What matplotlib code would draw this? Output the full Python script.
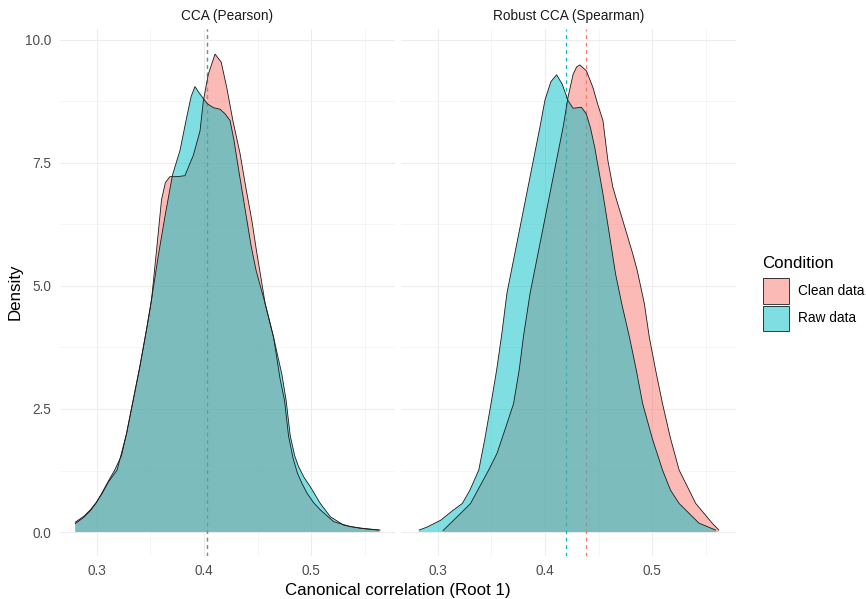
import matplotlib.pyplot as plt
from matplotlib.patches import Rectangle
from matplotlib.ticker import MultipleLocator

plt.rcParams['font.family'] = ['Liberation Sans', 'DejaVu Sans']

# density curves (x = canonical correlation, y = density)
pearson_clean_x = [0.280, 0.288, 0.294, 0.2995, 0.305, 0.311, 0.319, 0.3278, 0.334, 0.3402,
                   0.3464, 0.3511, 0.3558, 0.3604, 0.364, 0.3682, 0.375, 0.3822, 0.3869, 0.390,
                   0.3963, 0.3994, 0.404, 0.4103, 0.416, 0.4212, 0.427, 0.4336, 0.439, 0.4446,
                   0.449, 0.452, 0.457, 0.4648, 0.471, 0.4750, 0.4788, 0.4830, 0.487, 0.4915,
                   0.496, 0.502, 0.5084, 0.5209, 0.5364, 0.550, 0.564]
pearson_clean_y = [0.20, 0.32, 0.45, 0.60, 0.78, 1.02, 1.26, 2.00, 2.68, 3.36,
                   4.11, 4.72, 5.73, 6.75, 7.10, 7.22, 7.22, 7.24, 7.49, 7.65,
                   8.15, 8.76, 9.30, 9.71, 9.55, 9.03, 8.35, 7.69, 7.00, 6.33,
                   5.70, 5.31, 4.64, 3.96, 3.10, 2.68, 1.95, 1.50, 1.20, 0.98,
                   0.79, 0.60, 0.45, 0.21, 0.11, 0.07, 0.04]
pearson_raw_x = [0.280, 0.288, 0.294, 0.2995, 0.305, 0.311, 0.3168, 0.3231, 0.3278, 0.334,
                 0.3402, 0.3464, 0.3511, 0.3573, 0.3636, 0.3707, 0.3776, 0.3838, 0.3880, 0.3916,
                 0.3955, 0.4031, 0.409, 0.415, 0.4195, 0.4243, 0.428, 0.432, 0.438, 0.444,
                 0.4486, 0.457, 0.4648, 0.4726, 0.4765, 0.4804, 0.4845, 0.4881, 0.4935, 0.4991,
                 0.5084, 0.5178, 0.5302, 0.5458, 0.5629]
pearson_raw_y = [0.17, 0.30, 0.43, 0.59, 0.80, 1.04, 1.26, 1.55, 2.00, 2.68,
                 3.36, 4.11, 4.72, 5.60, 6.41, 7.26, 7.75, 8.42, 8.85, 9.05,
                 8.92, 8.70, 8.62, 8.59, 8.50, 8.36, 7.95, 7.40, 6.60, 5.80,
                 5.31, 4.64, 3.96, 3.20, 2.68, 1.95, 1.55, 1.33, 1.10, 0.92,
                 0.58, 0.31, 0.14, 0.075, 0.04]
spearman_clean_x = [0.305, 0.312, 0.320, 0.3306, 0.3475, 0.3553, 0.363, 0.3707, 0.376, 0.3799,
                    0.3861, 0.3923, 0.3985, 0.4046, 0.4108, 0.417, 0.4216, 0.4262, 0.4295, 0.4324,
                    0.4386, 0.4447, 0.449, 0.454, 0.4586, 0.4633, 0.468, 0.4725, 0.4818, 0.486,
                    0.4926, 0.4972, 0.503, 0.5095, 0.517, 0.525, 0.5405, 0.5558, 0.562]
spearman_clean_y = [0.03, 0.18, 0.35, 0.58, 1.26, 1.60, 2.10, 2.61, 3.30, 3.97,
                    4.85, 5.53, 6.21, 6.88, 7.56, 8.24, 8.85, 9.30, 9.45, 9.49,
                    9.37, 9.03, 8.70, 8.36, 7.55, 7.00, 6.65, 6.33, 5.65, 5.31,
                    4.64, 3.96, 3.30, 2.61, 1.90, 1.26, 0.58, 0.18, 0.04]
spearman_raw_x = [0.2827, 0.290, 0.3028, 0.313, 0.3229, 0.330, 0.3383, 0.344, 0.3497, 0.355,
                  0.3599, 0.3645, 0.3707, 0.3769, 0.383, 0.3892, 0.3954, 0.400, 0.4055, 0.4108,
                  0.416, 0.4216, 0.4262, 0.430, 0.434, 0.4386, 0.4425, 0.4463, 0.454, 0.460,
                  0.4657, 0.4715, 0.4787, 0.485, 0.491, 0.500, 0.5095, 0.517, 0.525, 0.5435,
                  0.559]
spearman_raw_y = [0.04, 0.10, 0.24, 0.42, 0.58, 0.85, 1.26, 1.90, 2.61, 3.30,
                  4.05, 4.85, 5.53, 6.21, 6.88, 7.56, 8.24, 8.78, 9.15, 9.29,
                  9.10, 8.76, 8.61, 8.62, 8.63, 8.49, 8.20, 7.82, 6.87, 6.05,
                  5.25, 4.64, 3.96, 3.30, 2.61, 1.90, 1.26, 0.85, 0.58, 0.18,
                  0.04]

# mean lines
pearson_means = {'Clean data': 0.4025, 'Raw data': 0.4025}
spearman_means = {'Clean data': 0.438, 'Raw data': 0.420}

panel_titles = ['CCA (Pearson)', 'Robust CCA (Spearman)']
conditions = ['Clean data', 'Raw data']
colors = {'Clean data': '#F8766D', 'Raw data': '#00BFC4'}

W, H = 866, 599
fig = plt.figure(figsize=(W / 100, H / 100), dpi=100)


def px_box(l, t, r, b):
    return [l / W, 1 - b / H, (r - l) / W, (b - t) / H]


ax1 = fig.add_axes(px_box(60, 29, 395, 556))
ax2 = fig.add_axes(px_box(401, 29, 736, 556))

panels = [
    (ax1, {'Clean data': (pearson_clean_x, pearson_clean_y),
           'Raw data': (pearson_raw_x, pearson_raw_y)}, pearson_means),
    (ax2, {'Clean data': (spearman_clean_x, spearman_clean_y),
           'Raw data': (spearman_raw_x, spearman_raw_y)}, spearman_means),
]

for i, (ax, curves, means) in enumerate(panels):
    for s in ax.spines.values():
        s.set_visible(False)
    ax.set_xlim(0.2658, 0.578)
    ax.set_ylim(-0.487, 10.22)
    ax.xaxis.set_major_locator(MultipleLocator(0.1))
    ax.xaxis.set_minor_locator(MultipleLocator(0.05))
    ax.yaxis.set_major_locator(MultipleLocator(2.5))
    ax.yaxis.set_minor_locator(MultipleLocator(1.25))
    ax.grid(which='major', color='#EDEDED', linewidth=0.8, zorder=0)
    ax.grid(which='minor', color='#F2F2F2', linewidth=0.5, zorder=0)
    ax.set_axisbelow(True)
    ax.tick_params(which='both', length=0, labelsize=9.8, labelcolor='#4D4D4D', pad=6)
    ax.set_xticks([0.3, 0.4, 0.5])
    ax.set_xticklabels(['0.3', '0.4', '0.5'])
    if i == 0:
        ax.set_yticks([0, 2.5, 5, 7.5, 10])
        ax.set_yticklabels(['0.0', '2.5', '5.0', '7.5', '10.0'])
    else:
        ax.tick_params(axis='y', labelleft=False)

    for c in conditions:
        ax.axvline(means[c], color=colors[c], linewidth=0.9, linestyle=(0, (3, 3)),
                   zorder=1.5)
    for c in conditions:
        x, y = curves[c]
        ax.fill_between(x, 0, y, facecolor=colors[c], alpha=0.5, linewidth=0, zorder=2)
        ax.plot(x, y, color='#1A1A1A', linewidth=0.6, zorder=3, solid_joinstyle='round')

    ax.text(0.5, 1.025, panel_titles[i], transform=ax.transAxes, ha='center', va='center',
            fontsize=9.8, color='#1A1A1A')

fig.text(398 / W, 1 - 590 / H, 'Canonical correlation (Root 1)', ha='center', va='center',
         fontsize=12.2, color='black')
fig.text(15 / W, 1 - 292 / H, 'Density', ha='center', va='center', rotation=90,
         fontsize=12.2, color='black')

# legend
fig.text(762 / W, 1 - 263 / H, 'Condition', ha='left', va='center', fontsize=12.2)
key_tops = [278, 305.5]
for c, top in zip(conditions, key_tops):
    fig.add_artist(Rectangle((763 / W, 1 - (top + 25.5) / H), 25.5 / W, 25.5 / H,
                             transform=fig.transFigure, facecolor=colors[c], alpha=0.5,
                             edgecolor='none'))
    fig.add_artist(Rectangle((763 / W, 1 - (top + 25.5) / H), 25.5 / W, 25.5 / H,
                             transform=fig.transFigure, facecolor='none',
                             edgecolor='#1A1A1A', linewidth=0.6))
    fig.text(798 / W, 1 - (top + 13) / H, c, ha='left', va='center', fontsize=9.8)

fig.savefig('out.png', dpi=100, facecolor='white')
